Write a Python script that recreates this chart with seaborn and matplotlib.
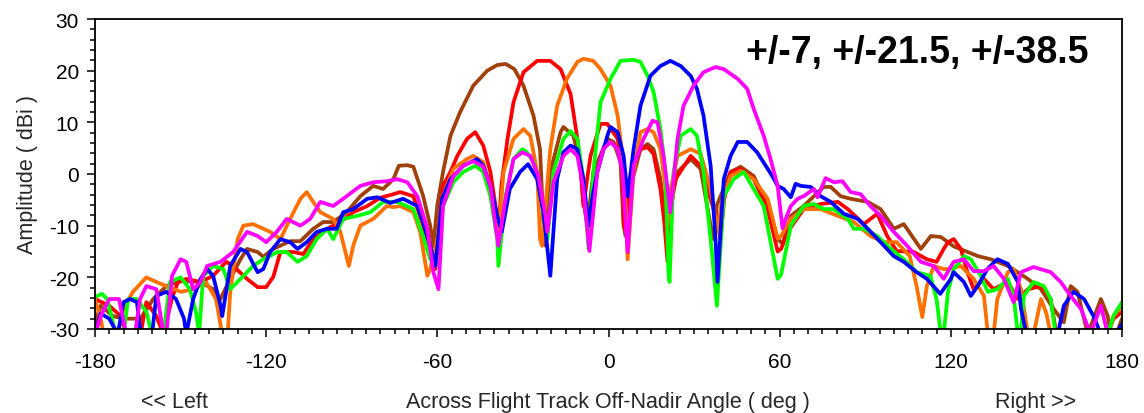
import matplotlib
matplotlib.use("Agg")
import matplotlib.pyplot as plt
from matplotlib.ticker import MultipleLocator
import seaborn as sns
import pandas as pd

# ---- data: (angle deg, amplitude dBi) ----
beam_names = ["-38.5", "-21.5", "-7", "+7", "+21.5", "+38.5"]
beam_colors = ["#A0400A", "#FF0000", "#FF7000", "#00FF00", "#0000FF", "#FF00FF"]

brown = [(-180,-28.7),(-178,-25.5),(-173.7,-27.5),(-170,-28),(-164,-28),(-159.6,-24.2),(-155,-21.7),(-150,-20.7),(-143,-20.9),(-138.6,-22.3),(-136,-24.2),(-132.6,-20.3),(-129,-16.5),(-126.7,-14.5),(-123,-15.1),(-121,-16),(-117.5,-14.5),(-111.6,-13),(-108,-13),(-103.5,-10.6),(-100,-9.3),(-96.5,-9.3),(-91.8,-7.4),(-87,-4.3),(-82.5,-2.3),(-79,-2.9),(-75.4,-1),(-73.5,1.6),(-70.5,1.7),(-68.4,1.4),(-65,-4.2),(-62.5,-10),(-61.4,-14),(-60,-6),(-58,0.4),(-55.4,7.4),(-52,12),(-47.4,17.1),(-42.5,20),(-39,21.1),(-36,21.3),(-33,20.3),(-29.8,17.1),(-26.3,11.3),(-24,4.8),(-22.8,-10),(-22,-13.9),(-20.4,0.4),(-16.8,8.1),(-15.8,9.1),(-12.3,7.4),(-9.8,1.6),(-8.8,-5.4),(-7.4,-10),(-5.3,0.4),(-0.4,6.8),(1.8,6.2),(4.2,2.3),(5.3,-10),(6,-12),(8,-2),(11.2,4.8),(13.7,5.8),(15.8,4.8),(18.2,-1),(20,-8.7),(20.7,-12),(22,-5),(24.2,0.4),(28.8,2.9),(32.3,1),(35.8,-10),(36.8,-12.6),(38,-6),(42.8,0.4),(46.3,1.4),(50.9,-0.4),(55.8,-6.2),(59.3,-12.6),(61,-13.5),(63.9,-8.1),(68.4,-6.2),(75.4,-2.5),(77.9,-2.5),(81.4,-4.3),(84.9,-4.8),(90.9,-5.4),(95.4,-6.8),(100,-10.6),(103.5,-9.7),(109.5,-14.5),(113,-12),(116.5,-12.2),(121,-14),(129.5,-15.9),(134,-16.5),(140,-17.8),(147,-20.3),(151.6,-22.3),(156,-26.1),(159.6,-28.7),(162,-21.7),(164.4,-22.8),(168,-31),(172.6,-24.2),(175,-27.5),(176,-31),(178,-31),(180,-28)]

red = [(-180,-24.2),(-175,-25.5),(-171,-27.5),(-169,-31),(-164,-31),(-162,-24.8),(-158.5,-27.5),(-156,-31),(-153,-24),(-151,-21),(-148,-20.3),(-143,-20.9),(-138.6,-19.7),(-134,-17),(-131.6,-17.8),(-126.7,-20.3),(-123,-21.9),(-120,-21.9),(-117.5,-19.9),(-115,-15.1),(-110.5,-15.1),(-107,-15.5),(-103.5,-12.6),(-98.6,-10.6),(-94,-9.3),(-89.5,-7.4),(-84.6,-6.2),(-80,-4.6),(-76,-4),(-73,-3.5),(-68.4,-4.3),(-65,-10),(-62.5,-15.9),(-60.7,-18.4),(-59.5,-10),(-58,-2.3),(-55.4,0.4),(-53,3.5),(-49.6,6.8),(-46.7,8.1),(-43.9,5.5),(-41.4,0.4),(-39.6,-6.2),(-38.6,-12),(-37.5,-2),(-35.4,6.8),(-33.3,13.9),(-29.8,19.7),(-25,21.9),(-20.4,21.9),(-16.8,20.3),(-13.3,15.5),(-10.9,6.8),(-9.8,1),(-8.8,-6.2),(-7.5,-1),(-6.3,3.5),(-2.8,9.7),(-0.4,9.7),(3.2,6.8),(4.9,0.4),(5.3,-9.3),(6,-11),(7,-3),(8.5,1.5),(11.2,4.8),(13.7,5.2),(15.8,3.9),(18.2,-2.9),(19.5,-9),(20.7,-17),(21.5,-8),(23.5,-1),(28.8,3.5),(32.3,1.6),(34.7,-2.9),(38.2,-9.3),(39.3,-12.6),(40.5,-5),(42.8,0.4),(46.3,1),(50.9,-1),(55.8,-6.8),(59.3,-15),(60.5,-14.5),(62.8,-11.2),(68.4,-6.8),(74.4,-5.8),(80.4,-5.4),(83.9,-6.8),(89.5,-9.7),(94.2,-7.7),(97.7,-12),(101,-14.9),(107,-15.1),(111.6,-16.5),(115,-17),(117.5,-14.5),(119,-13.2),(121,-12.6),(123.5,-14.5),(125.8,-19),(128,-22.3),(131.6,-20.3),(135,-22.3),(140,-20.9),(143.5,-24.2),(147,-22.3),(151.6,-21.7),(155,-24.2),(157,-31),(175,-31),(177,-28),(180,-26.7)]

orange = [(-180,-24.2),(-178,-28),(-177,-31),(-172,-31),(-170,-26),(-166.7,-22.8),(-162,-20),(-158.5,-20.9),(-155,-21.7),(-150,-22.8),(-145.6,-22.3),(-141,-21),(-137.6,-24.2),(-135.4,-31),(-133.5,-31),(-132.6,-22.8),(-130,-12.6),(-128,-10),(-124.6,-9.7),(-121,-10.6),(-118.6,-11.2),(-115,-12.6),(-111.6,-8.7),(-108,-4.8),(-105.8,-3.5),(-103.5,-5.4),(-101,-7.4),(-96.5,-8.7),(-94,-11.2),(-91,-17.8),(-89.5,-13.9),(-87,-10),(-82.5,-8.7),(-77.7,-6.2),(-75.4,-6.4),(-73,-6.2),(-68.4,-7.4),(-66,-11.2),(-63.5,-19.7),(-62.5,-18.4),(-60,-12.6),(-58,-4.3),(-54.4,1),(-49.6,2.9),(-47.4,3.5),(-43.9,2.3),(-41.4,-2.9),(-39,-10),(-38.6,-12.6),(-36.8,0.4),(-33.3,6.8),(-29.8,8.7),(-27.4,7.4),(-25,0.4),(-24,-12.6),(-23.3,-13.9),(-20.4,4.8),(-18,13.2),(-14.6,18.4),(-10.9,21.7),(-8.8,22.3),(-5.3,21.9),(-2.8,20.3),(0.7,17.1),(3.2,11.3),(4.9,3.5),(6.2,-8),(6.7,-16.5),(8.8,0.4),(11.2,8.1),(13.7,8.7),(15.8,8.1),(18.2,4.8),(20,-2.9),(20.7,-10),(21.8,-3),(24.2,3.5),(28.8,4.8),(32.3,3.9),(35.8,-2.9),(38.2,-11.2),(39.5,-6),(42.8,-0.4),(46.3,0.6),(50.9,-1),(55.8,-4.8),(59.3,-12.5),(60.5,-12),(63.9,-8.7),(68.4,-6.8),(74.4,-6.8),(80.4,-8.1),(86,-9.3),(91.8,-12),(96.5,-13.2),(101,-13.2),(105.6,-15.9),(108,-21.7),(110,-27.7),(111.6,-21.7),(114,-17.8),(117.5,-18.4),(119,-18.4),(123.5,-17.8),(128,-20.3),(131.6,-23.6),(133,-31),(135,-31),(136.3,-24.2),(140,-19),(142,-18.4),(144.6,-22.3),(147,-31),(149,-31),(151.6,-24.2),(153.5,-27),(155,-31),(175,-31),(177,-27.5),(180,-25.5)]

green = [(-180,-23.8),(-177.5,-23.2),(-175.8,-24.2),(-174,-28),(-173,-31),(-170,-31),(-168.4,-24.2),(-165.3,-24.2),(-162,-26.7),(-160,-31),(-156,-31),(-153.7,-20.9),(-150,-20),(-146.7,-22.3),(-144.5,-27),(-143.5,-31),(-142.5,-23),(-142,-19.7),(-138.6,-17.8),(-135,-18.4),(-132.6,-22.3),(-129,-20.3),(-124.6,-17.8),(-121,-16.5),(-116,-15.1),(-112.8,-15.1),(-109,-17),(-105.8,-15.9),(-102.3,-12.6),(-98.6,-10.6),(-96.5,-12.6),(-93,-8.7),(-88,-8.1),(-83.5,-7.4),(-79,-5.4),(-74,-5.4),(-68.4,-6.8),(-65,-12),(-62.5,-16.5),(-60.7,-17.8),(-58,-6.2),(-54.4,-1.6),(-50.9,0.4),(-46.7,1.6),(-43.9,0.4),(-41.4,-4.3),(-39,-12.6),(-38.6,-17.8),(-36.1,-4.3),(-33.3,2.9),(-30.2,4.8),(-28.6,4.2),(-26.3,2.3),(-24,-2.3),(-22.3,-10),(-21.4,-12.6),(-19.3,0.4),(-15.8,6.8),(-13.3,8.3),(-10.9,6.8),(-8.8,-1),(-7,-14.5),(-5.3,0.4),(-2.8,13.9),(0.7,18.4),(4.2,21.9),(8.8,22.1),(11.2,21.7),(13.7,19),(15.8,15.9),(18.2,8.7),(20,0.4),(21,-19),(21.4,-20.9),(22.8,0.4),(25.3,7.4),(28.8,8.7),(31,7.4),(33.3,0.4),(35.8,-12.6),(38,-25.5),(40.4,-4.3),(43.9,-1),(47.4,0.4),(50.9,-2.9),(54.4,-6.2),(59.3,-20.3),(60.5,-19.5),(63.9,-10),(68.4,-6.2),(71.9,-5.8),(75.4,-6.8),(78.9,-6.8),(83.9,-8.7),(86,-10.6),(89.5,-10.6),(94.2,-12),(99,-14.5),(103.5,-16.5),(108,-19),(112.8,-19.7),(115,-24.2),(116.5,-31),(117.5,-31),(119,-22.8),(121,-18.4),(124.6,-15.9),(127,-16.5),(130.5,-19.7),(133,-22.8),(136.3,-22.3),(140,-20.3),(142,-23.6),(143.5,-31),(144.5,-31),(145.6,-23.6),(149,-20.9),(152.6,-21.7),(155,-24.2),(156.7,-31),(175,-31),(177,-27.5),(180,-24.8)]

blue = [(-180,-31),(-178,-27),(-175,-28),(-172,-31),(-170,-24.8),(-167.7,-24.2),(-165.3,-24.8),(-164,-31),(-160,-31),(-158.5,-23.6),(-155,-22.8),(-151.6,-24.2),(-148.8,-28),(-148,-31),(-145.6,-24.2),(-143,-20.3),(-140.7,-18.4),(-138.6,-19.7),(-136,-25.5),(-135.4,-27.5),(-132.6,-17.8),(-129,-14.5),(-126.7,-15.1),(-123,-19),(-121,-18.4),(-118.6,-15.1),(-115,-12.6),(-111.6,-13.2),(-109,-14.5),(-105.8,-13.2),(-102.3,-11.2),(-98.6,-10.6),(-95.3,-10.6),(-93,-7.4),(-89.5,-6.8),(-84.6,-4.8),(-81,-4.5),(-76.5,-5.6),(-72,-4.8),(-67,-6.2),(-65,-9.3),(-62.5,-13.9),(-60.7,-17.8),(-58.3,-4.8),(-55.4,-1),(-50.9,1.6),(-46.1,2.9),(-43.9,1.6),(-41.4,-2.3),(-39,-8.1),(-37.4,-11.2),(-34.6,-2.9),(-31,0.4),(-28.2,1.9),(-25,-1),(-22.8,-7.4),(-20.4,-19.7),(-18,-1),(-15.8,4.2),(-13.3,5.5),(-10.9,4.8),(-8.8,-1),(-7,-10),(-5.5,-4),(-3.9,0.4),(-0.4,7.4),(0.7,9.1),(3.2,8.1),(5.3,3.5),(6.7,-4.3),(8.8,4.8),(11.2,13.2),(14.7,19),(18.2,20.9),(21.7,21.9),(25.3,20.9),(28.8,19),(31,16.5),(33.3,11.3),(35.8,1.6),(37.5,-12.6),(38.2,-20.9),(40.4,-1),(42.8,3.5),(45.3,6.2),(48.6,6.2),(52.1,4.2),(55.8,1),(57.5,-0.5),(59.3,-2.3),(61.4,-2.9),(63.9,-4.5),(65.6,-1.9),(67.4,-2.3),(70.9,-2.5),(74.4,-4.3),(77.9,-5.4),(82.5,-7.7),(87.4,-8.7),(90.9,-10.6),(95.4,-13.2),(100,-15.9),(103.5,-17),(108,-19),(111.6,-20.3),(116.3,-23.2),(120,-20.3),(121,-19),(124.6,-20.9),(127,-23.6),(129.4,-21.7),(132.8,-18.4),(136.3,-16.5),(140,-17.4),(143.5,-20.9),(144.6,-26.1),(146.5,-31),(157.5,-31),(159.6,-25.5),(163,-22.8),(166.7,-24.2),(170,-27.5),(172.6,-31),(178,-31),(180,-29)]

magenta = [(-180,-31),(-178,-27.5),(-175,-24.2),(-171.6,-24.2),(-169,-31),(-166,-31),(-164.2,-24.2),(-162,-21.7),(-158.5,-22.3),(-156,-31),(-155,-31),(-153,-19.7),(-150,-16.5),(-148,-17),(-145.6,-22.3),(-143,-20.9),(-140.7,-17.8),(-136,-17),(-131.6,-15.1),(-126.7,-11.2),(-123,-12),(-120,-13.2),(-116.3,-11.2),(-112.8,-8.7),(-108,-10),(-104.6,-8.7),(-101,-5.4),(-96.5,-6.2),(-91.8,-4.3),(-87,-2.3),(-82.5,-1.6),(-77.7,-1.4),(-74,-1),(-70.5,-1.6),(-67,-4.3),(-63.5,-10.6),(-61.4,-19),(-59.6,-22.3),(-58,-6.2),(-54.4,-0.4),(-50.9,1.6),(-47.4,2.5),(-43.9,1.4),(-41.4,-2.3),(-39.6,-10),(-38.6,-13.9),(-36.1,-4.8),(-33.3,2.9),(-30.2,4.2),(-27.4,3.5),(-24.6,-0.4),(-22.3,-7.4),(-21.4,-11.2),(-19.3,-1.6),(-15.8,3.5),(-13.3,4.8),(-10.9,3.5),(-8.8,-2.9),(-6.7,-14.9),(-3.9,0.4),(-1.8,4.8),(0.7,6.2),(3.2,4.8),(4.9,0.4),(6.7,-15.1),(8.8,1.6),(12.3,6.8),(15.4,10.3),(17.2,10),(19.3,3.5),(21.7,-7.4),(24.2,6.8),(26.3,13.2),(29.8,17.1),(33.3,19.7),(37.5,20.7),(40.4,20.3),(45.3,18.4),(48.6,16.5),(50.9,12.6),(54.4,7.4),(56.8,2.9),(59.3,-2.3),(61,-10.5),(62.1,-8.7),(63.9,-6.2),(66.3,-4.8),(68.4,-4.3),(72,-2.9),(73.3,-4.5),(76.1,-0.8),(79,-1.6),(82,-1.4),(84.9,-3.5),(88.4,-3.9),(91.8,-6.2),(95.4,-8.1),(100,-11.2),(104.7,-13.9),(109.5,-17),(114,-17.8),(117.5,-20.3),(121,-17),(124.6,-16.5),(128,-18.8),(131.6,-18.8),(135,-17.8),(138.6,-20.3),(142,-24.8),(144.6,-19),(149,-18),(155,-19),(158.5,-20.9),(162,-23.6),(165.6,-26.1),(169,-31),(172.6,-25.5),(175,-31),(180,-31)]

beam_points = [brown, red, orange, green, blue, magenta]

x_ticks = [-180, -120, -60, 0, 60, 120, 180]
y_ticks = [-30, -20, -10, 0, 10, 20, 30]
annotation = "+/-7, +/-21.5, +/-38.5"

# ---- build long-form table ----
rows = []
for name, pts in zip(beam_names, beam_points):
    for a, v in pts:
        rows.append({"angle": a, "amp": v, "beam": name})
df = pd.DataFrame(rows)

sns.set_style("ticks")
plt.rcParams["font.family"] = ["Liberation Sans", "DejaVu Sans"]
plt.rcParams["axes.unicode_minus"] = False

W, H = 1144, 414
fig = plt.figure(figsize=(W / 100, H / 100), dpi=100)
ax = fig.add_axes([95 / W, 1 - 330 / H, (1122 - 95) / W, (330 - 20) / H])

sns.lineplot(data=df, x="angle", y="amp", hue="beam", hue_order=beam_names,
             palette=dict(zip(beam_names, beam_colors)), estimator=None,
             sort=False, linewidth=2.7, legend=False, ax=ax)

ax.set_xlim(-180, 180)
ax.set_ylim(-30, 30)
ax.set_xticks(x_ticks)
ax.set_yticks(y_ticks)
ax.xaxis.set_minor_locator(MultipleLocator(5))
ax.yaxis.set_minor_locator(MultipleLocator(2))
ax.tick_params(which="both", direction="out", top=False, right=False,
               width=1.1, color="black", labelsize=15, labelcolor="black")
ax.tick_params(which="major", length=5.5)
ax.tick_params(which="minor", length=3.6)
ax.tick_params(axis="x", which="major", pad=11)
ax.tick_params(axis="y", which="major", pad=6)
for s in ax.spines.values():
    s.set_visible(True)
    s.set_color("black")
    s.set_linewidth(1.3)
ax.set_xlabel("")
ax.set_ylabel("Amplitude ( dBi )", fontsize=15.5, labelpad=8)
ax.grid(False)

ax.text(108.2, 21.7, annotation, ha="center", va="baseline",
        fontsize=27, fontweight="bold", color="black")

fig.text(608 / W, 1 - 403 / H, "Across Flight Track Off-Nadir Angle ( deg )",
         ha="center", va="center", fontsize=15.5)
fig.text(174 / W, 1 - 403 / H, "<< Left", ha="center", va="center", fontsize=15.5)
fig.text(1036 / W, 1 - 403 / H, "Right >>", ha="center", va="center", fontsize=15.5)

fig.savefig("out.png", dpi=100)
